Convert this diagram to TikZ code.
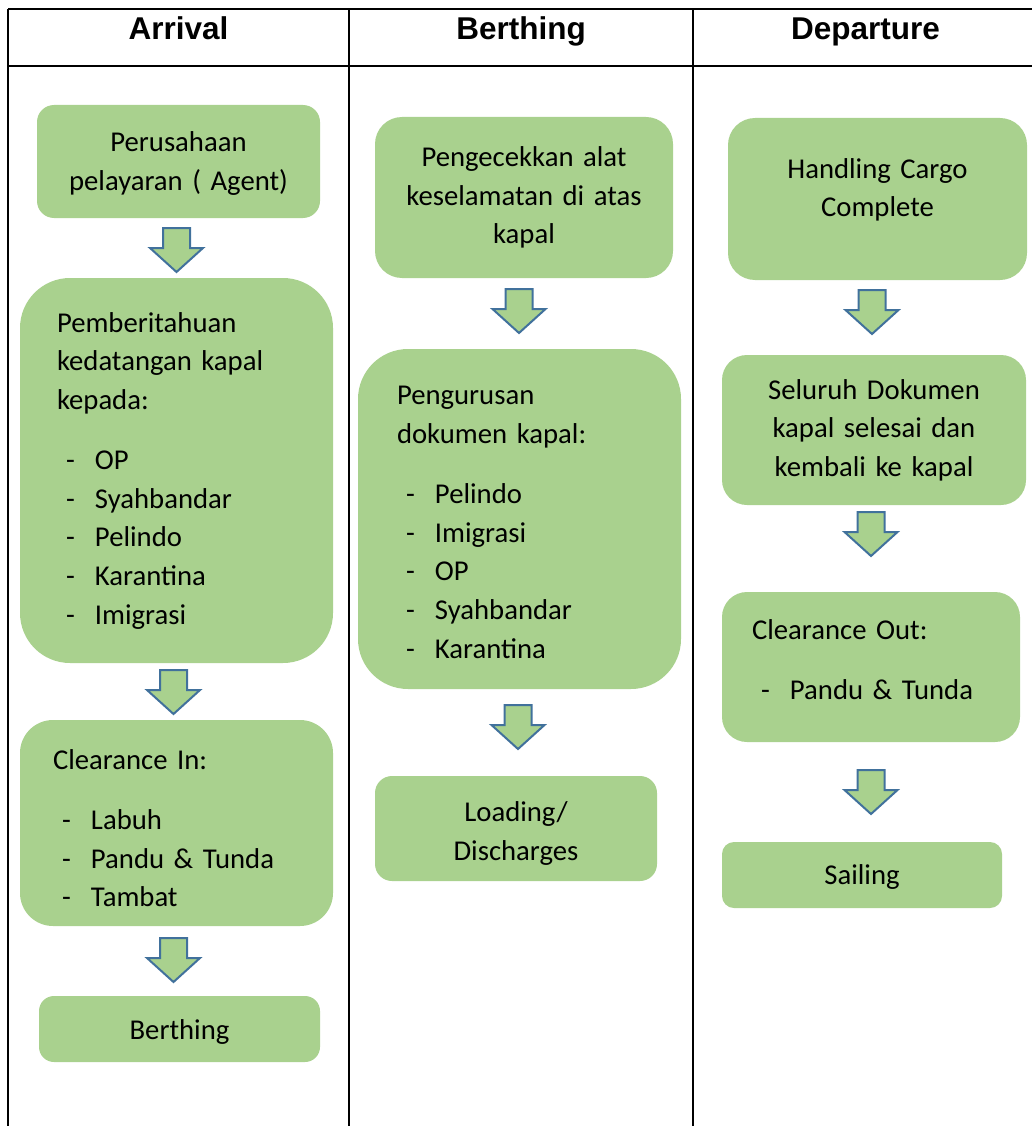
\documentclass[tikz,border=0pt]{standalone}
\usepackage{fontspec}
\setmainfont{Carlito}
\newfontfamily\headfont{Liberation Sans}
\definecolor{boxgreen}{HTML}{A9D18E}
\definecolor{arrowblue}{HTML}{41719C}
\newcommand{\listrow}[1]{\hspace*{9pt}\makebox[29pt][l]{-}#1}

\begin{document}
\begin{tikzpicture}[x=1pt, y=-1pt,
  textup/.style={execute at end node={\rule[-#1]{0pt}{#1}}},
  textdown/.style={execute at begin node={\rule{0pt}{#1}}}]
\tikzstyle{tableline}=[line width=2pt]
\tikzstyle{heading}=[anchor=base, font=\headfont\bfseries\fontsize{31.5pt}{37pt}\selectfont]
\tikzstyle{stage}=[fill=boxgreen, inner sep=0pt, font=\fontsize{28.7pt}{38.75pt}\selectfont, execute at begin node=\strut, execute at end node=\strut]
\tikzstyle{centred}=[stage, align=center]
\tikzstyle{listed}=[stage, align=left]
\tikzstyle{blockarrow}=[draw=arrowblue, fill=boxgreen, line width=2pt, line join=miter]
\useasboundingbox (0,0) rectangle (1032,1126);
\draw[tableline] (8,9) -- (1032,9) (8,66) -- (1032,66)
(8,9) -- (8,1126) (349,9) -- (349,1126) (693,9) -- (693,1126);
\node[heading] (arrival) at (178.5,39.5) {Arrival};
\node[heading] (berthing) at (521,39.5) {Berthing};
\node[heading] (departure) at (865.5,39.5) {Departure};
\node[centred, minimum width=283pt, minimum height=113pt, rounded corners=17pt, text width=263pt, textdown=31pt] (agent) at (178.5,161.5) {Perusahaan\\pelayaran ( Agent)};
\node[listed, minimum width=313pt, minimum height=385pt, rounded corners=50pt, text width=239pt] (notice) at (176.5,470.5) {Pemberitahuan\\kedatangan kapal\\kepada:\\[21pt]\listrow{OP}\\\listrow{Syahbandar}\\\listrow{Pelindo}\\\listrow{Karantina}\\\listrow{Imigrasi}};
\node[listed, minimum width=313pt, minimum height=206pt, rounded corners=33pt, text width=247pt, textdown=42pt] (clearin) at (176.5,823) {Clearance In:\\[21pt]\listrow{Labuh}\\\listrow{Pandu \& Tunda}\\\listrow{Tambat}};
\node[centred, minimum width=281pt, minimum height=66pt, rounded corners=15pt, text width=261pt, textdown=33pt] (berthed) at (179.5,1029) {Berthing};
\node[centred, minimum width=298pt, minimum height=161pt, rounded corners=27pt, text width=278pt] (safety) at (524,197.5) {Pengecekkan alat\\keselamatan di atas\\kapal};
\node[listed, minimum width=323pt, minimum height=340pt, rounded corners=50pt, text width=245pt, textdown=37pt] (docs) at (519.5,519) {Pengurusan\\dokumen kapal:\\[21pt]\listrow{Pelindo}\\\listrow{Imigrasi}\\\listrow{OP}\\\listrow{Syahbandar}\\\listrow{Karantina}};
\node[centred, minimum width=282pt, minimum height=105pt, rounded corners=17pt, text width=262pt, textdown=36pt] (loading) at (516,828.5) {Loading/\\Discharges};
\node[centred, minimum width=299pt, minimum height=162pt, rounded corners=27pt, text width=279pt, textup=30pt] (handling) at (877.5,199) {Handling Cargo\\Complete};
\node[centred, minimum width=304pt, minimum height=150pt, rounded corners=25pt, text width=284pt] (documents) at (874,430) {Seluruh Dokumen\\kapal selesai dan\\kembali ke kapal};
\node[listed, minimum width=298pt, minimum height=150pt, rounded corners=25pt, text width=238pt, textup=22pt] (clearout) at (871,667) {Clearance Out:\\[21pt]\listrow{Pandu \& Tunda}};
\node[centred, minimum width=280pt, minimum height=66pt, rounded corners=12pt, text width=260pt, textdown=31pt] (sailing) at (862,875) {Sailing};
\foreach \x/\y in {176.5/228, 173.5/670, 173.5/938, 519/289, 518/705, 872/290, 871/512, 871/770}
  \draw[blockarrow] (\x-13.5,\y) -- (\x+13.5,\y) -- (\x+13.5,\y+20) -- (\x+26.5,\y+20)
  -- (\x,\y+44) -- (\x-26.5,\y+20) -- (\x-13.5,\y+20) -- cycle;
\end{tikzpicture}
\end{document}
